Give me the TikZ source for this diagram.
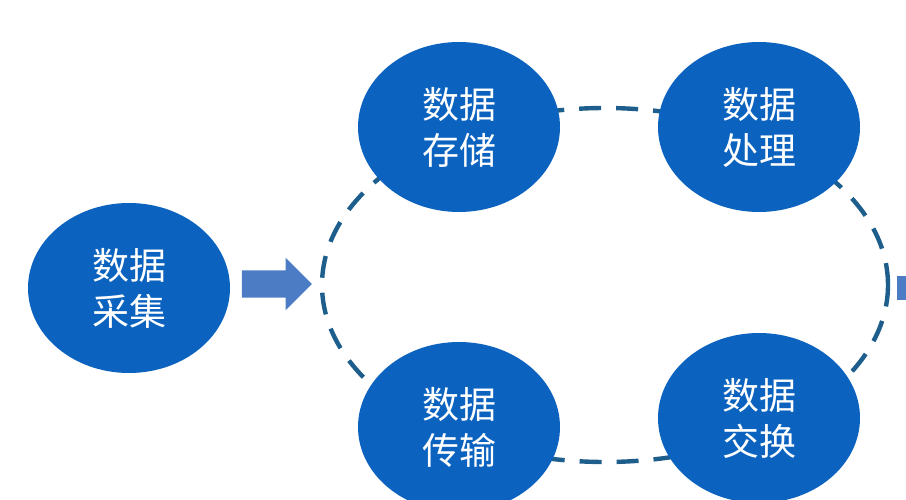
\documentclass[tikz,border=0pt]{standalone}
\usepackage{fontspec}
\setmainfont{Noto Sans CJK SC}
\usetikzlibrary{shapes.geometric,shapes.arrows}
\definecolor{ballblue}{HTML}{0C63BF}
\definecolor{arrowblue}{HTML}{4C7DC4}
\definecolor{loopblue}{HTML}{1D5E8C}
\begin{document}
\begin{tikzpicture}[x=1pt,y=-1pt,
  ball/.style={ellipse,fill=ballblue,text=white,minimum width=202pt,minimum height=170pt,
    inner sep=0pt,align=center,font=\fontsize{37}{46}\selectfont},
  blockarrow/.style={single arrow,fill=arrowblue,inner xsep=0pt,inner ysep=13.5pt,
    minimum height=70pt,single arrow head extend=12.5pt,single arrow tip angle=90},
  loopline/.style={draw=loopblue,line width=4.4pt,dash pattern=on 22pt off 15pt}]
\useasboundingbox (0,0) rectangle (906,500);
\node[ellipse,loopline,minimum width=566pt,minimum height=354pt,inner sep=0pt] (loop) at (605,285) {};
\node[ball] (collect) at (129,288) {数据\\采集};
\node[ball] (store) at (459,127) {数据\\存储};
\node[ball] (process) at (759,127) {数据\\处理};
\node[ball] (transmit) at (459,427) {数据\\传输};
\node[ball] (exchange) at (759,418) {数据\\交换};
\node[blockarrow] (arrow) at (270,284) {};
\fill[arrowblue] (897,276) rectangle (906,300);
\end{tikzpicture}
\end{document}
